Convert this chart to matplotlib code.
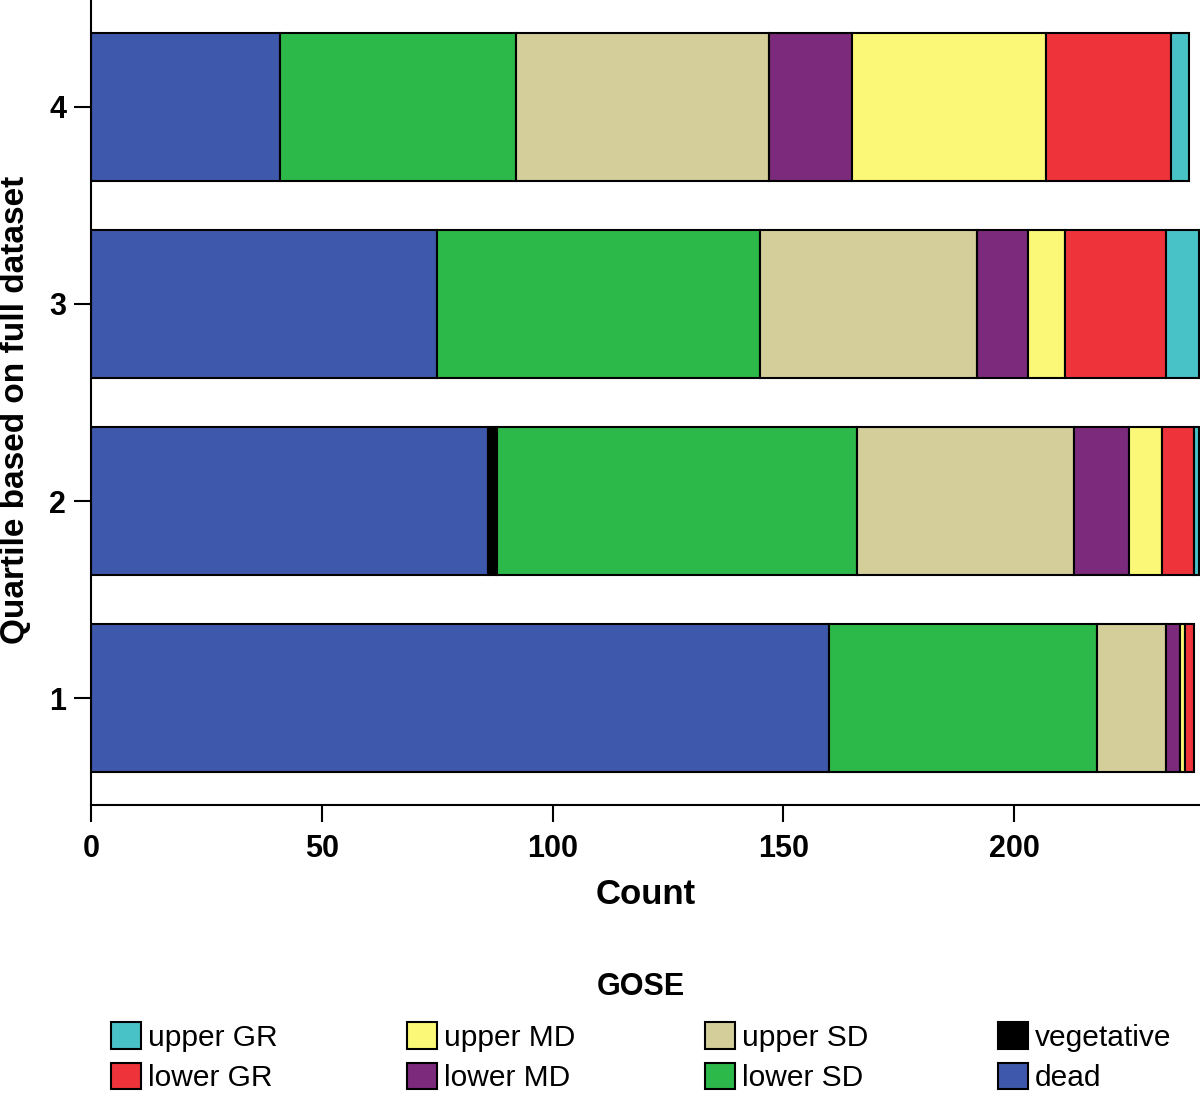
import matplotlib
matplotlib.use("Agg")
import matplotlib.pyplot as plt
import numpy as np
from matplotlib.patches import Patch

plt.rcParams['font.family'] = ['Liberation Sans', 'DejaVu Sans']

quartiles = ["1", "2", "3", "4"]
categories = ["dead", "vegetative", "lower SD", "upper SD", "lower MD", "upper MD", "lower GR", "upper GR"]
colors = ["#3E59AB", "#000000", "#2DB84A", "#D3CE9A", "#7C2A7C", "#FAF876", "#EF333B", "#48C1C7"]

dead       = [160, 86, 75, 41]
vegetative = [0, 2, 0, 0]
lower_sd   = [58, 78, 70, 51]
upper_sd   = [15, 47, 47, 55]
lower_md   = [3, 12, 11, 18]
upper_md   = [1, 7, 8, 42]
lower_gr   = [2, 7, 22, 27]
upper_gr   = [0, 1, 7, 4]

series = [dead, vegetative, lower_sd, upper_sd, lower_md, upper_md, lower_gr, upper_gr]

fig = plt.figure(figsize=(12, 10.98), dpi=100)
ax = fig.add_axes([91/1200, 1 - 805/1098, 1 - 91/1200, 805/1098])

y = np.arange(1, len(quartiles) + 1)
left = np.zeros(len(quartiles))
for name, vals, c in zip(categories, series, colors):
    vals = np.array(vals, dtype=float)
    mask = vals > 0
    ax.barh(y[mask], vals[mask], left=left[mask], height=0.75, color=c,
            edgecolor='black', linewidth=1.5, label=name)
    left += vals

ax.set_xlim(0, 240.3)
ax.set_ylim(0.457, 4.543)
ax.set_xticks([0, 50, 100, 150, 200])
ax.set_yticks(y)
ax.set_yticklabels(quartiles)
for s in ['top', 'right']:
    ax.spines[s].set_visible(False)
for s in ['left', 'bottom']:
    ax.spines[s].set_linewidth(1.5)
ax.tick_params(axis='both', length=12, width=1.5, labelsize=22)
ax.tick_params(axis='x', pad=9)
ax.tick_params(axis='y', pad=6)
for lab in ax.get_xticklabels() + ax.get_yticklabels():
    lab.set_fontweight('bold')
ax.set_xlabel("Count", fontsize=25, fontweight='bold', labelpad=10)
ax.set_ylabel("Quartile based on full dataset", fontsize=24, fontweight='bold')
ax.yaxis.set_label_coords(31/1200, 1 - 410/1098, transform=fig.transFigure)

order = ["upper GR", "lower GR", "upper MD", "lower MD", "upper SD", "lower SD", "vegetative", "dead"]
cmap = dict(zip(categories, colors))
handles = [Patch(facecolor=cmap[n], edgecolor='black', linewidth=1.5, label=n) for n in order]
fig.text(641/1200, 1 - 987/1098, "GOSE", fontsize=22, fontweight='bold', ha='center', va='center')
leg = fig.legend(handles=handles, loc='upper left', bbox_to_anchor=(111/1200, 1 - 1022/1098),
                 ncol=4, frameon=False, fontsize=21.5,
                 handlelength=1.0, handleheight=1.0, handletextpad=0.23,
                 columnspacing=4.35, labelspacing=0.37, borderaxespad=0, borderpad=0)

fig.savefig("out.png", dpi=100)
